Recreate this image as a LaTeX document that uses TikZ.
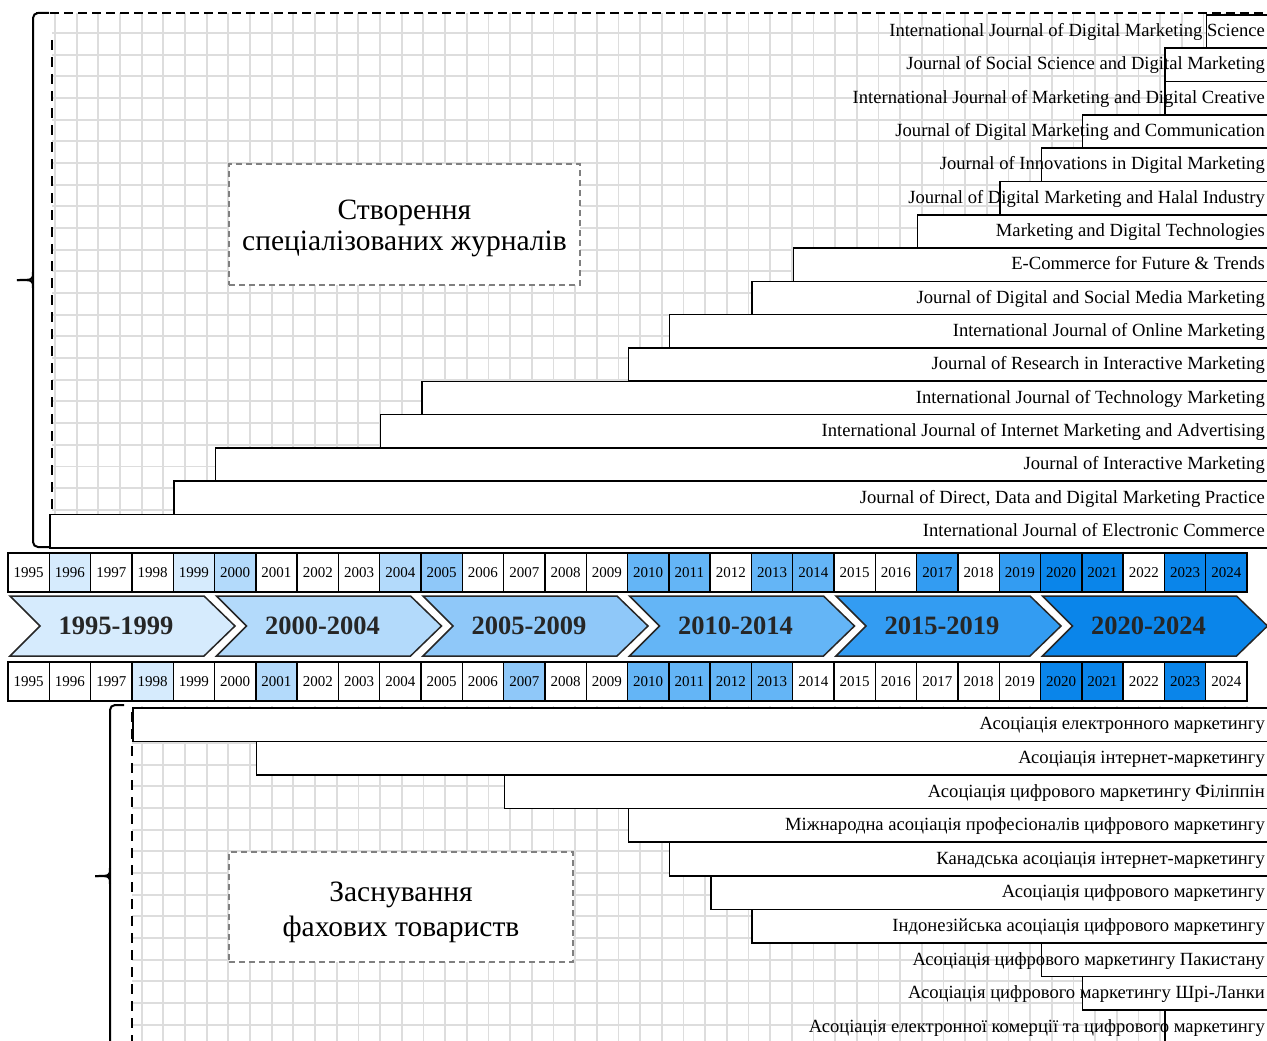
\documentclass[tikz,border=0pt]{standalone}
\usepackage{fontspec}
\setmainfont{Liberation Serif}
\usetikzlibrary{positioning}
\definecolor{p95c}{HTML}{D6EBFD}
\definecolor{p00c}{HTML}{B3DAFB}
\definecolor{p05c}{HTML}{8FC8F9}
\definecolor{p10c}{HTML}{64B5F6}
\definecolor{p15c}{HTML}{339CF2}
\definecolor{p20c}{HTML}{0A85EA}
\colorlet{gridc}{gray!27}

\begin{document}
\begin{tikzpicture}[x=1pt,y=-1pt,
        yearcell/.style={draw, line width=1.4pt, minimum width=41.3pt, minimum height=39pt, inner sep=0pt, font=\fontsize{15}{16}\selectfont},
        jbar/.style={draw, fill=white, line width=1.6pt, anchor=north west, minimum height=33.3pt, inner sep=0pt},
        abar/.style={jbar, minimum height=33.6pt},
        blabel/.style={anchor=base east, inner sep=0pt, font=\fontsize{18.6}{20}\selectfont},
        gridline/.style={gridc, line width=1.8pt},
        chevline/.style={draw=black!85, line width=1.5pt},
        chevtext/.style={font=\fontsize{26.5}{30}\selectfont\bfseries, text=black!85},
        notebox/.style={draw=gray, dash pattern=on 6pt off 4pt, line width=1.3pt, fill=white, align=center},
        bracket/.style={line width=2pt, rounded corners=5pt}]
        \useasboundingbox (0,0) rectangle (1267,1041);

        % grids behind the two blocks
        \foreach \k in {0,...,56} \draw[gridline] (55+21.67*\k,13) -- (55+21.67*\k,547);
        \foreach \k in {0,...,23} \draw[gridline] (52,33+21.67*\k) -- (1270,33+21.67*\k);
        \foreach \k in {0,...,52} \draw[gridline] (141.7+21.67*\k,706) -- (141.7+21.67*\k,1041);
        \foreach \k in {0,...,15} \draw[gridline] (132,721.3+21.67*\k) -- (1270,721.3+21.67*\k);

        \draw[line width=2pt, dash pattern=on 9pt off 5pt] (36,13) -- (1270,13);
        \draw[line width=2pt, dash pattern=on 10pt off 7pt] (52,40) -- (52,514);
        \draw[line width=2pt, dash pattern=on 10pt off 7pt] (132,712) -- (132,1045);

        % braces
        \draw[bracket] (49,13) -- (33,13) -- (33,547) -- (49,547);
        \draw[line width=2pt] (33,272) .. controls (33,280) .. (17,280);
        \draw[line width=2pt] (33,288) .. controls (33,280) .. (17,280);
        \draw[bracket] (124,705) -- (110,705) -- (110,1050);
        \draw[line width=2pt] (110,868) .. controls (110,876) .. (95,876);
        \draw[line width=2pt] (110,884) .. controls (110,876) .. (95,876);

        \node[notebox, minimum width=351pt, minimum height=121pt, font=\fontsize{29.5}{31}\selectfont]
        (jbox) at (404.5,224.5) {\rule{0pt}{28pt}Створення\\спеціалізованих журналів};
        \node[notebox, minimum width=344pt, minimum height=110pt, font=\fontsize{29.5}{35}\selectfont]
        (abox) at (401,907) {\rule{0pt}{30pt}Заснування\\фахових товариств};

        % journals
        \node[jbar, minimum width=1240.7pt] (j1) at (49.3,513.7) {};
        \node[jbar, minimum width=1116.8pt] (j2) at (173.2,480.4) {};
        \node[jbar, minimum width=1075.5pt] (j3) at (214.5,447.1) {};
        \node[jbar, minimum width=910.3pt] (j4) at (379.7,413.8) {};
        \node[jbar, minimum width=869pt] (j5) at (421,380.5) {};
        \node[jbar, minimum width=662.5pt] (j6) at (627.5,347.1) {};
        \node[jbar, minimum width=621.2pt] (j7) at (668.8,313.8) {};
        \node[jbar, minimum width=538.6pt] (j8) at (751.4,280.5) {};
        \node[jbar, minimum width=497.3pt] (j9) at (792.7,247.2) {};
        \node[jbar, minimum width=373.4pt] (j10) at (916.6,213.9) {};
        \node[jbar, minimum width=290.8pt] (j11) at (999.2,180.6) {};
        \node[jbar, minimum width=249.5pt] (j12) at (1040.5,147.3) {};
        \node[jbar, minimum width=208.2pt] (j13) at (1081.8,114) {};
        \node[jbar, minimum width=125.6pt] (j14) at (1164.4,80.7) {};
        \node[jbar, minimum width=125.6pt] (j15) at (1164.4,47.4) {};
        \node[jbar, minimum width=84.3pt] (j16) at (1205.7,14) {};

        \node[blabel] (j1t) at (1265,536.3) {International Journal of Electronic Commerce};
        \node[blabel] (j2t) at (1265,503) {Journal of Direct, Data and Digital Marketing Practice};
        \node[blabel] (j3t) at (1265,469.7) {Journal of Interactive Marketing};
        \node[blabel] (j4t) at (1265,436.4) {International Journal of Internet Marketing and Advertising};
        \node[blabel] (j5t) at (1265,403.1) {International Journal of Technology Marketing};
        \node[blabel] (j6t) at (1265,369.8) {Journal of Research in Interactive Marketing};
        \node[blabel] (j7t) at (1265,336.5) {International Journal of Online Marketing};
        \node[blabel] (j8t) at (1265,303.2) {Journal of Digital and Social Media Marketing};
        \node[blabel] (j9t) at (1265,269.9) {E-Commerce for Future \& Trends};
        \node[blabel] (j10t) at (1265,236.6) {Marketing and Digital Technologies};
        \node[blabel] (j11t) at (1265,203.3) {Journal of Digital Marketing and Halal Industry};
        \node[blabel] (j12t) at (1265,169.9) {Journal of Innovations in Digital Marketing};
        \node[blabel] (j13t) at (1265,136.6) {Journal of Digital Marketing and Communication};
        \node[blabel] (j14t) at (1265,103.3) {International Journal of Marketing and Digital Creative};
        \node[blabel] (j15t) at (1265,70) {Journal of Social Science and Digital Marketing};
        \node[blabel] (j16t) at (1265,36.7) {International Journal of Digital Marketing Science};

        % associations
        \node[abar, minimum width=1158.1pt] (a1) at (131.9,707) {};
        \node[abar, minimum width=1034.2pt] (a2) at (255.8,740.6) {};
        \node[abar, minimum width=786.4pt] (a3) at (503.6,774.2) {};
        \node[abar, minimum width=662.5pt] (a4) at (627.5,807.8) {};
        \node[abar, minimum width=621.2pt] (a5) at (668.8,841.4) {};
        \node[abar, minimum width=579.9pt] (a6) at (710.1,875) {};
        \node[abar, minimum width=538.6pt] (a7) at (751.4,908.6) {};
        \node[abar, minimum width=249.5pt] (a8) at (1040.5,942.2) {};
        \node[abar, minimum width=208.2pt] (a9) at (1081.8,975.8) {};
        \node[abar, minimum width=125.6pt] (a10) at (1164.4,1009.4) {};

        \node[blabel] (a1t) at (1265,729.8) {Асоціація електронного маркетингу};
        \node[blabel] (a2t) at (1265,763.4) {Асоціація інтернет-маркетингу};
        \node[blabel] (a3t) at (1265,797) {Асоціація цифрового маркетингу Філіппін};
        \node[blabel] (a4t) at (1265,830.6) {Міжнародна асоціація професіоналів цифрового маркетингу};
        \node[blabel] (a5t) at (1265,864.2) {Канадська асоціація інтернет-маркетингу};
        \node[blabel] (a6t) at (1265,897.8) {Асоціація цифрового маркетингу};
        \node[blabel] (a7t) at (1265,931.4) {Індонезійська асоціація цифрового маркетингу};
        \node[blabel] (a8t) at (1265,965) {Асоціація цифрового маркетингу Пакистану};
        \node[blabel] (a9t) at (1265,998.6) {Асоціація цифрового маркетингу Шрі-Ланки};
        \node[blabel] (a10t) at (1265,1032.2) {Асоціація електронної комерції та цифрового маркетингу};

        % year rows
        \foreach \yr/\col [count=\i from 0] in {1995/white,1996/p95c,1997/white,1998/white,1999/p95c,
                2000/p00c,2001/white,2002/white,2003/white,2004/p00c,2005/p05c,2006/white,2007/white,2008/white,2009/white,
                2010/p10c,2011/p10c,2012/white,2013/p10c,2014/p10c,2015/white,2016/white,2017/p15c,2018/white,2019/p15c,
                2020/p20c,2021/p20c,2022/white,2023/p20c,2024/p20c}
            \node[yearcell, fill=\col] (t\yr) at (28.65+41.3*\i,572.5) {\yr};
        \foreach \yr/\col [count=\i from 0] in {1995/white,1996/white,1997/white,1998/p95c,1999/white,
                2000/white,2001/p00c,2002/white,2003/white,2004/white,2005/white,2006/white,2007/p05c,2008/white,2009/white,
                2010/p10c,2011/p10c,2012/p10c,2013/p10c,2014/white,2015/white,2016/white,2017/white,2018/white,2019/white,
                2020/p20c,2021/p20c,2022/white,2023/p20c,2024/white}
            \node[yearcell, fill=\col] (b\yr) at (28.65+41.3*\i,681.5) {\yr};

        % periods
        \filldraw[chevline, fill=p95c] (10,596) -- ++(194,0) -- ++(31,30) -- ++(-31,30) -- ++(-194,0) -- ++(30,-30) -- cycle;
        \filldraw[chevline, fill=p00c] (216.5,596) -- ++(194,0) -- ++(31,30) -- ++(-31,30) -- ++(-194,0) -- ++(30,-30) -- cycle;
        \filldraw[chevline, fill=p05c] (423,596) -- ++(194,0) -- ++(31,30) -- ++(-31,30) -- ++(-194,0) -- ++(30,-30) -- cycle;
        \filldraw[chevline, fill=p10c] (629.5,596) -- ++(194,0) -- ++(31,30) -- ++(-31,30) -- ++(-194,0) -- ++(30,-30) -- cycle;
        \filldraw[chevline, fill=p15c] (836,596) -- ++(194,0) -- ++(31,30) -- ++(-31,30) -- ++(-194,0) -- ++(30,-30) -- cycle;
        \filldraw[chevline, fill=p20c] (1042.5,596) -- ++(194,0) -- ++(31,30) -- ++(-31,30) -- ++(-194,0) -- ++(30,-30) -- cycle;

        \node[chevtext] (c1) at (116,626) {1995-1999};
        \node[chevtext] (c2) at (322.5,626) {2000-2004};
        \node[chevtext] (c3) at (529,626) {2005-2009};
        \node[chevtext] (c4) at (735.5,626) {2010-2014};
        \node[chevtext] (c5) at (942,626) {2015-2019};
        \node[chevtext] (c6) at (1148.5,626) {2020-2024};

\end{tikzpicture}
\end{document}
